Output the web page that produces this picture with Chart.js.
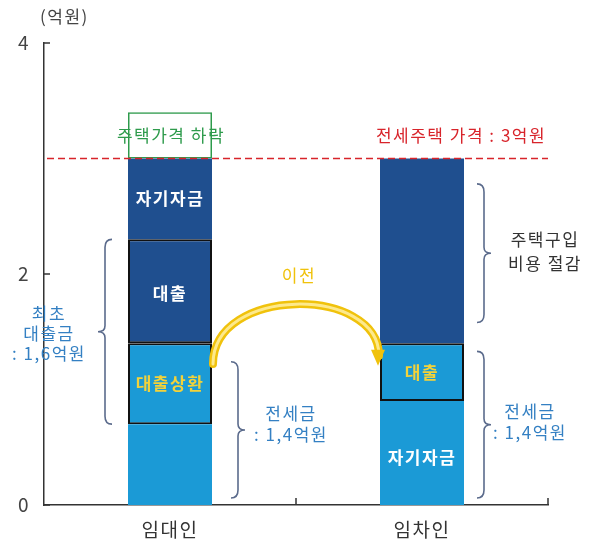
<!DOCTYPE html>
<html>
<head>
<meta charset="utf-8">
<script src="https://cdn.jsdelivr.net/npm/chart.js@4"></script>
<style>
  body { margin: 0; background: #fff; }
  #wrap { width: 592px; height: 542px; }
</style>
</head>
<body>
<div id="wrap"><canvas id="myChart" width="592" height="542"></canvas></div>
<script>
// categories and stacked layers (억원), bottom to top
const categories = ['임대인', '임차인'];
const ownBottom = [0.7, 0.9];     // light blue base
const loanMiddle = [0.7, 0.5];    // 대출상환 / 대출 (outlined, light blue)
const darkLower = [0.9, 1.6];     // 대출 (left, outlined) / 절감 (right)
const darkUpper = [0.7, 0];       // 자기자금 (left top)
const priceDrop = [0.4, 0];       // 주택가격 하락 (green outline)
const jeonsePrice = 3;
const yTicks = [0, 2, 4];

const DARK = '#1f4f8f';
const LIGHT = '#1b9ad6';
const BLUE_TXT = '#3480c3';
const FONT = '"Noto Sans CJK KR", "Noto Sans", sans-serif';

const spacing = {
  id: 'spacing',
  beforeDraw(chart) { chart.ctx.letterSpacing = '1.5px'; }
};

const annotations = {
  id: 'annotations',
  afterDatasetsDraw(chart) {
    const { ctx, chartArea, scales: { x, y } } = chart;
    const xl = x.getPixelForValue(0), xr = x.getPixelForValue(1);
    const half = (xr - xl) / 6;
    ctx.save();

    // inward ticks
    ctx.strokeStyle = '#333';
    ctx.lineWidth = 1.5;
    yTicks.forEach(v => {
      const py = y.getPixelForValue(v);
      ctx.beginPath(); ctx.moveTo(chartArea.left, py); ctx.lineTo(chartArea.left + 6, py); ctx.stroke();
    });
    [(xl + xr) / 2, chartArea.right].forEach(px => {
      ctx.beginPath(); ctx.moveTo(px, chartArea.bottom); ctx.lineTo(px, chartArea.bottom - 7); ctx.stroke();
    });

    // red dashed line at jeonse price
    const y3 = y.getPixelForValue(jeonsePrice);
    ctx.strokeStyle = '#d8242b';
    ctx.lineWidth = 1.5;
    ctx.setLineDash([7, 4]);
    ctx.beginPath(); ctx.moveTo(chartArea.left + 3, y3); ctx.lineTo(chartArea.right, y3); ctx.stroke();
    ctx.setLineDash([]);

    // braces
    const brace = (bx, top, bottom, dir) => {
      const mid = (top + bottom) / 2;
      const w = 7 * dir;
      ctx.beginPath();
      ctx.moveTo(bx - w, top);
      ctx.quadraticCurveTo(bx, top, bx, top + 8);
      ctx.lineTo(bx, mid - 6);
      ctx.quadraticCurveTo(bx, mid, bx + w, mid);
      ctx.quadraticCurveTo(bx, mid, bx, mid + 6);
      ctx.lineTo(bx, bottom - 8);
      ctx.quadraticCurveTo(bx, bottom, bx - w, bottom);
      ctx.stroke();
    };
    ctx.strokeStyle = '#5b6b8c';
    ctx.lineWidth = 1.6;
    brace(105, y.getPixelForValue(2.3), y.getPixelForValue(0.7), -1);
    brace(238, y.getPixelForValue(1.24), y.getPixelForValue(0.06), 1);
    brace(xr + half + 20, y.getPixelForValue(2.78), y.getPixelForValue(1.58), 1);
    brace(xr + half + 20, y.getPixelForValue(1.33), y.getPixelForValue(0.06), 1);

    // arrow 이전
    const ax0 = xl + half + 1, ax1 = xr - half - 1;
    const ay0 = y.getPixelForValue(1.22), ay1 = y.getPixelForValue(1.24);
    const ctrlY = y.getPixelForValue(1.9);
    const arc = () => {
      ctx.beginPath();
      ctx.moveTo(ax0, ay0);
      ctx.bezierCurveTo(ax0, ctrlY, ax1, ctrlY, ax1, ay1 - 6);
      ctx.stroke();
    };
    ctx.lineCap = 'round';
    ctx.strokeStyle = '#f0c20c'; ctx.lineWidth = 8; arc();
    ctx.strokeStyle = '#fde98c'; ctx.lineWidth = 3; arc();
    ctx.fillStyle = '#f0c20c';
    ctx.beginPath();
    ctx.moveTo(ax1 - 8, ay1 - 12); ctx.lineTo(ax1 + 6, ay1 - 12); ctx.lineTo(ax1 - 1, ay1 + 4);
    ctx.closePath(); ctx.fill();

    // texts
    const txt = (s, px, py, color, size, bold, align) => {
      ctx.font = (bold ? 'bold ' : '') + size + 'px ' + FONT;
      ctx.fillStyle = color;
      ctx.textAlign = align || 'center';
      ctx.textBaseline = 'middle';
      ctx.fillText(s, px, py);
    };
    txt('(억원)', 40, 17, '#444', 17, false, 'left');
    txt('자기자금', xl, y.getPixelForValue(2.65), '#fff', 17, true);
    txt('대출', xl, y.getPixelForValue(1.83), '#fff', 17, true);
    txt('대출상환', xl, y.getPixelForValue(1.05), '#f3d23a', 17, true);
    txt('대출', xr, y.getPixelForValue(1.15), '#f3d23a', 17, true);
    txt('자기자금', xr, y.getPixelForValue(0.41), '#fff', 17, true);
    txt('주택가격 하락', xl + 1, y.getPixelForValue(3.2), '#2e9b4c', 17);
    txt('전세주택 가격 : 3억원', xr + 39, y.getPixelForValue(3.2), '#d8242b', 17);
    txt('이전', (xl + xr) / 2 + 3, y.getPixelForValue(1.99), '#f0c20c', 17);
    ['최초', '대출금', ': 1,6억원'].forEach((s, i) =>
      txt(s, 49, 314 + i * 20, BLUE_TXT, 17));
    ['전세금', ': 1,4억원'].forEach((s, i) =>
      txt(s, 291, 414 + i * 21, BLUE_TXT, 17));
    ['주택구입', '비용 절감'].forEach((s, i) =>
      txt(s, 545, 240 + i * 24, '#333', 17));
    ['전세금', ': 1,4억원'].forEach((s, i) =>
      txt(s, 530, 412 + i * 21, BLUE_TXT, 17));
    ctx.restore();
  }
};

const layer = (data, color, borderColor, borderWidth) => ({
  data, backgroundColor: color, borderColor, borderWidth,
  barPercentage: 1, categoryPercentage: 1 / 3, borderSkipped: false
});

new Chart(document.getElementById('myChart'), {
  type: 'bar',
  data: {
    labels: categories,
    datasets: [
      layer(ownBottom, LIGHT, LIGHT, 0),
      layer(loanMiddle, LIGHT, '#111', 2),
      layer(darkLower, DARK, ['#111', DARK], [2, 0]),
      layer(darkUpper, DARK, DARK, 0),
      layer(priceDrop, 'rgba(0,0,0,0)', '#2e9b4c', 1.5)
    ]
  },
  options: {
    responsive: false,
    animation: false,
    layout: { padding: { top: 43, right: 44, left: 0, bottom: 0 } },
    plugins: { legend: { display: false }, tooltip: { enabled: false } },
    scales: {
      x: {
        stacked: true,
        grid: { display: false, drawTicks: false },
        border: { color: '#333', width: 1.5 },
        ticks: { color: '#333', font: { family: FONT, size: 19 }, padding: 13 },
        afterFit: s => { s.height = 37; }
      },
      y: {
        stacked: true,
        min: 0, max: 4,
        afterBuildTicks: s => { s.ticks = yTicks.map(v => ({ value: v })); },
        grid: { display: false, drawTicks: false },
        border: { color: '#333', width: 1.5 },
        ticks: { color: '#444', font: { family: FONT, size: 19 }, padding: 14 },
        afterFit: s => { s.width = 44; }
      }
    }
  },
  plugins: [spacing, annotations]
});
</script>
</body>
</html>
